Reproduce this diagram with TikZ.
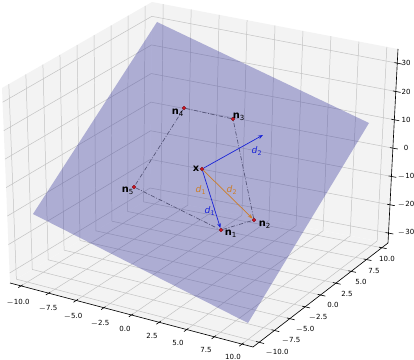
\documentclass[tikz,border=0pt]{standalone}
\usepackage{fontspec}
\setmainfont{DejaVu Sans}
\usetikzlibrary{arrows.meta, calc}
\definecolor{panegray}{RGB}{243,243,243}
\definecolor{gridgray}{RGB}{195,195,195}
\definecolor{planeblue}{RGB}{60,60,160}
\definecolor{dotred}{RGB}{205,20,35}
\definecolor{polyslate}{RGB}{80,80,115}
\definecolor{distorange}{RGB}{205,125,40}
\definecolor{dirblue}{RGB}{25,35,215}
\tikzset{
  pane/.style={fill=panegray, draw=none},
  gridline/.style={draw=gridgray, line width=0.35pt},
  axisline/.style={draw=black, line width=0.45pt},
  ticklabel/.style={font=\fontsize{5}{6}\selectfont, inner sep=0pt},
  plane/.style={fill=planeblue, fill opacity=0.38, draw=none},
  pt/.style={circle, fill=dotred, draw=dotred!60!black, line width=0.2pt,
    inner sep=0pt, minimum size=2.6pt},
  ptlabel/.style={font=\fontsize{7}{8}\selectfont, inner sep=0pt},
  dlabel/.style={font=\fontsize{6.5}{7}\selectfont, inner sep=0pt},
  polyedge/.style={draw=polyslate, line width=0.45pt,
    dash pattern=on 3pt off 1.2pt on 0.6pt off 1.2pt},
  distarrow/.style={-{Stealth[length=3.5pt]}, draw=distorange, line width=0.5pt},
  dirarrow/.style={-{Stealth[length=3.5pt]}, draw=dirblue, line width=0.5pt},
}

\begin{document}
\begin{tikzpicture}[x=0.025cm, y=-0.025cm]
  \useasboundingbox (0,0) rectangle (414,360);
  % corners of the axes box
  \coordinate (fL) at (10,283);
  \coordinate (fF) at (253,347);
  \coordinate (fR) at (388,243);
  \coordinate (fB) at (150,198);
  \coordinate (tL) at (2,88);
  \coordinate (tB) at (152,2);
  \coordinate (tR) at (398,49);

  % panes
  \fill[pane] (fL) -- (fF) -- (fR) -- (fB) -- cycle;
  \fill[pane] (fL) -- (fB) -- (tB) -- (tL) -- cycle;
  \fill[pane] (fB) -- (fR) -- (tR) -- (tB) -- cycle;

  % grid
  \foreach \v in {-10,-7.5,...,10} {
    \pgfmathsetmacro\t{(\v+11)/22}
    \coordinate (px) at ($(fL)!\t!(fF)$);
    \coordinate (qx) at ($(fB)!\t!(fR)$);
    \coordinate (py) at ($(fF)!\t!(fR)$);
    \coordinate (qy) at ($(fL)!\t!(fB)$);
    \draw[gridline] (px) -- (qx) -- ($(tB)!\t!(tR)$);
    \draw[gridline] (py) -- (qy) -- ($(tL)!\t!(tB)$);
    \draw[axisline] ($(px)!-0.02!(qx)$) -- ($(px)!0.012!(qx)$);
    \draw[axisline] ($(py)!-0.02!(qy)$) -- ($(py)!0.012!(qy)$);
  }
  \foreach \v in {-30,-20,...,30} {
    \pgfmathsetmacro\t{(\v+33.5)/68.5}
    \coordinate (pz) at ($(fR)!\t!(tR)$);
    \coordinate (qz) at ($(fB)!\t!(tB)$);
    \draw[gridline] ($(fL)!\t!(tL)$) -- (qz) -- (pz);
    \draw[axisline] ($(pz)!-0.02!(qz)$) -- ($(pz)!0.012!(qz)$);
  }

  % axes
  \draw[axisline] (fL) -- (fF) -- (fR) -- (tR);

  % tick labels
  \foreach \lab/\lx/\ly in {$-$10.0/18/302, $-$7.5/48/309, $-$5.0/73/316,
      $-$2.5/100/323, 0.0/125/329, 2.5/152/336, 5.0/178/343, 7.5/206/350,
      10.0/233/357}
    \node[ticklabel] at (\lx,\ly) {\lab};
  \foreach \lab/\lx/\ly in {10.0/387/259, 7.5/374/271, 5.0/361/282,
      2.5/347/294, 0.0/333/305, $-$2.5/318/317, $-$5.0/305/329,
      $-$7.5/291/341, $-$10.0/277/352}
    \node[ticklabel] at (\lx,\ly) {\lab};
  \foreach \lab/\ly in {30/63, 20/92, 10/120, 0/148, $-$10/176, $-$20/204,
      $-$30/232}
    \node[ticklabel] at (406,\ly) {\lab};

  % the plane
  \fill[plane] (157,22) -- (369,123) -- (248,323) -- (33,214) -- cycle;

  % points
  \node[pt] (n1) at (221,230) {};
  \node[pt] (n2) at (254,220) {};
  \node[pt] (n3) at (233,119) {};
  \node[pt] (n4) at (184,108) {};
  \node[pt] (n5) at (134,187) {};
  \node[pt] (x) at (202,169) {};
  \coordinate (d2tip) at (263,135);

  % polygon
  \draw[polyedge] (n1) -- (n2);
  \draw[polyedge] (n2) -- (n3);
  \draw[polyedge] (n3) -- (n4);
  \draw[polyedge] (n4) -- (n5);
  \draw[polyedge] (n5) -- (n1);

  % distances and direction
  \draw[distarrow] (x) -- (n2);
  \draw[dirarrow] (x) -- (n1);
  \draw[dirarrow] (x) -- (d2tip);

  % labels
  \node[ptlabel] (n1lab) at (231,234) {\textbf{n}\textsubscript{1}};
  \node[ptlabel] (n2lab) at (265,225) {\textbf{n}\textsubscript{2}};
  \node[ptlabel] (n3lab) at (239,117) {\textbf{n}\textsubscript{3}};
  \node[ptlabel] (n4lab) at (178,113) {\textbf{n}\textsubscript{4}};
  \node[ptlabel] (n5lab) at (128,191) {\textbf{n}\textsubscript{5}};
  \node[ptlabel] (xlab) at (196,169) {\textbf{x}};
  \node[dlabel, text=distorange] (d1olab) at (201,190) {\textit{d}\textsubscript{1}};
  \node[dlabel, text=distorange] (d2olab) at (232,190) {\textit{d}\textsubscript{2}};
  \node[dlabel, text=dirblue] (d1blab) at (210,211) {\textit{d}\textsubscript{1}};
  \node[dlabel, text=dirblue] (d2blab) at (257,151) {\textit{d}\textsubscript{2}};
\end{tikzpicture}
\end{document}
